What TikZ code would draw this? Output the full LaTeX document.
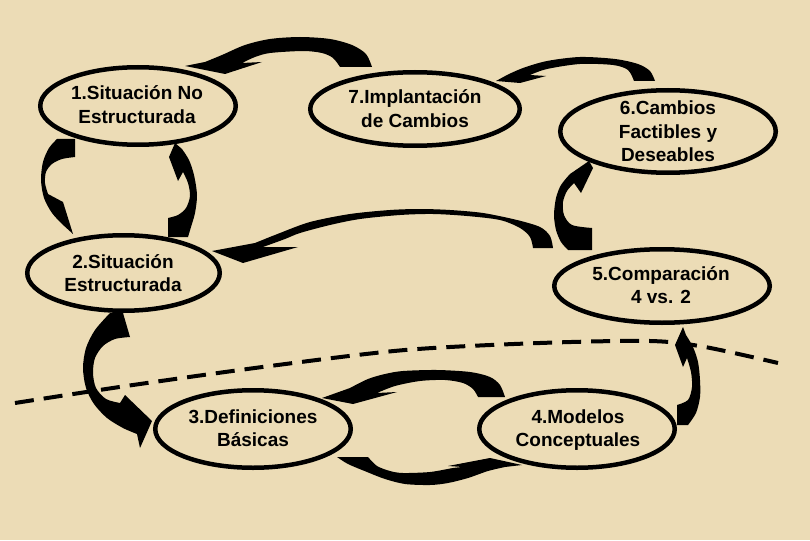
\documentclass[tikz,border=0pt]{standalone}
\usepackage{fontspec}
\setmainfont{Liberation Sans}
\usetikzlibrary{shapes.geometric}
\definecolor{parch}{RGB}{236,220,182}
\newcommand{\lbltab}[1]{\begin{tabular}[t]{@{}c@{}}#1\end{tabular}}
\tikzset{
 oval/.style={ellipse, draw=black, line width=4.5pt, inner sep=0pt},
 lbl/.style={anchor=base, inner sep=0pt, font=\fontsize{19}{23.5}\selectfont\bfseries},
 arrowfill/.style={fill=black},
 divider/.style={line width=4pt, dash pattern=on 19pt off 10pt}
}
\begin{document}
\begin{tikzpicture}[x=1pt,y=-1pt]
\fill[parch] (0,0) rectangle (810,540);
\useasboundingbox (0,0) rectangle (810,540);

% dashed divider
\draw[divider] plot[smooth] coordinates {(15,403) (133,385) (270,366) (405,350) (540,343) (650,341) (705,347) (778,363)};

% ellipses
\node[oval, minimum width=195.5pt, minimum height=77.5pt] (e1) at (138,106) {};
\node[oval, minimum width=209.5pt, minimum height=73.5pt] (e7) at (415,109) {};
\node[oval, minimum width=215.5pt, minimum height=82.5pt] (e6) at (668,131.5) {};
\node[oval, minimum width=192.5pt, minimum height=75.5pt] (e2) at (123.5,273) {};
\node[oval, minimum width=215.5pt, minimum height=73.5pt] (e5) at (662,286) {};
\node[oval, minimum width=195.5pt, minimum height=77.5pt] (e3) at (253,429) {};
\node[oval, minimum width=195.5pt, minimum height=77.5pt] (e4) at (577,429) {};

% labels
\node[lbl] (l1) at (137,100) {\lbltab{1.Situación No\\Estructurada}};
\node[lbl] (l7) at (415,104) {\lbltab{7.Implantación\\de Cambios}};
\node[lbl] (l6) at (668,115) {\lbltab{6.Cambios\\Factibles y\\Deseables}};
\node[lbl] (l2) at (123,268) {\lbltab{2.Situación\\Estructurada}};
\node[lbl] (l5) at (661,280) {\lbltab{5.Comparación\\4 vs. 2}};
\node[lbl] (l3) at (253,423) {\lbltab{3.Definiciones\\Básicas}};
\node[lbl] (l4) at (578,423) {\lbltab{4.Modelos\\Conceptuales}};

% arrow 7 -> 1
\fill[arrowfill] plot[smooth] coordinates {(372,67) (366,54) (352,45) (330,39) (300,37) (270,39) (245,45) (222,55) (205,62)}
 -- (185,66) -- (225,74) -- (262,62) -- (242,63)
 -- plot[smooth] coordinates {(242,63) (255,57) (270,53) (303,51) (322,53) (333,58) (340,67)} -- cycle;

% arrow 6 -> 7
\fill[arrowfill] plot[smooth] coordinates {(655,81) (650,71) (638,64) (615,59) (580,57) (547,61) (523,68) (507,75)}
 -- (496,81) -- (520,83) -- (546,76) -- (530,75)
 -- plot[smooth] coordinates {(530,75) (547,69) (580,64) (613,65) (628,70) (634,81)} -- cycle;

% arrow 5 -> 2
\fill[arrowfill] plot[smooth] coordinates {(553,248) (550,236) (540,227) (517,220) (483,213) (450,210) (420,209) (390,210) (350,214) (310,222) (280,233) (255,243)}
 -- (212,251) -- (243,263) -- (298,247) -- (263,247)
 -- plot[smooth] coordinates {(263,247) (285,239) (300,233) (330,225) (360,219) (400,215) (433,214) (467,216) (500,220) (520,228) (530,237) (533,248)} -- cycle;

% arrow 5 -> 6
\fill[arrowfill] (592,250) -- plot[smooth] coordinates {(568,250) (561,242) (556,230) (554,215) (556,198) (561,185) (570,174)}
 -- (589,161) -- (593,168) -- (581,193) -- (574,183)
 -- plot[smooth] coordinates {(574,183) (567,191) (563,202) (564,215) (572,225) (592,228)} -- cycle;

% arrow 1 -> 2
\fill[arrowfill] (75,139) -- plot[smooth] coordinates {(57,139) (49,148) (43,162) (41,180) (44,198) (52,213) (62,224)}
 -- (73,234) -- (63,202) -- (48,194)
 -- plot[smooth] coordinates {(48,194) (45,183) (46,172) (52,164) (62,159) (75,157)} -- cycle;

% arrow 2 -> 1
\fill[arrowfill] (168,237) -- plot[smooth] coordinates {(168,218) (178,215) (186,208) (190,196) (188,183) (183,172)}
 -- (178,181) -- (169,157) -- (175,143)
 -- plot[smooth] coordinates {(182,149) (189,160) (194,175) (197,195) (195,213) (191,227) (188,237)} -- cycle;

% arrow 2 -> 3
\fill[arrowfill] (110,313) -- (123,313)
 -- plot[smooth] coordinates {(130,337) (115,339) (103,346) (95,358) (93,373) (96,388) (106,399) (120,403)}
 -- (125,395) -- (152,421) -- (140,448)
 -- plot[smooth] coordinates {(137,434) (123,428) (107,418) (94,404) (86,388) (83,368) (86,348) (95,330) (110,313)} -- cycle;

% arrow 3 -> 4
\fill[arrowfill] plot[smooth] coordinates {(505,397) (500,385) (490,377) (470,372) (437,370) (403,371) (385,374) (368,379) (350,388)}
 -- (322,398) -- (353,404) -- (397,392) -- (377,393)
 -- plot[smooth] coordinates {(377,393) (395,386) (420,381) (445,380) (463,383) (473,389) (478,397)} -- cycle;

% arrow 4 -> 3
\fill[arrowfill] (337,457) -- (368,457)
 -- plot[smooth] coordinates {(368,457) (377,466) (390,471) (403,473) (430,472) (453,468) (463,467)}
 -- (448,466) -- (490,458) -- (522,465)
 -- plot[smooth] coordinates {(505,467) (488,471) (468,478) (448,483) (430,485) (405,484) (385,479) (367,472) (348,464) (337,457)} -- cycle;

% arrow 4 -> 5
\fill[arrowfill] (677,425) -- plot[smooth] coordinates {(677,405) (688,400) (692,387) (691,372) (687,358)}
 -- (683,367) -- (675,345) -- (683,327)
 -- plot[smooth] coordinates {(686,335) (693,347) (698,362) (700,380) (700,397) (696,413) (688,425)} -- cycle;
\end{tikzpicture}
\end{document}
